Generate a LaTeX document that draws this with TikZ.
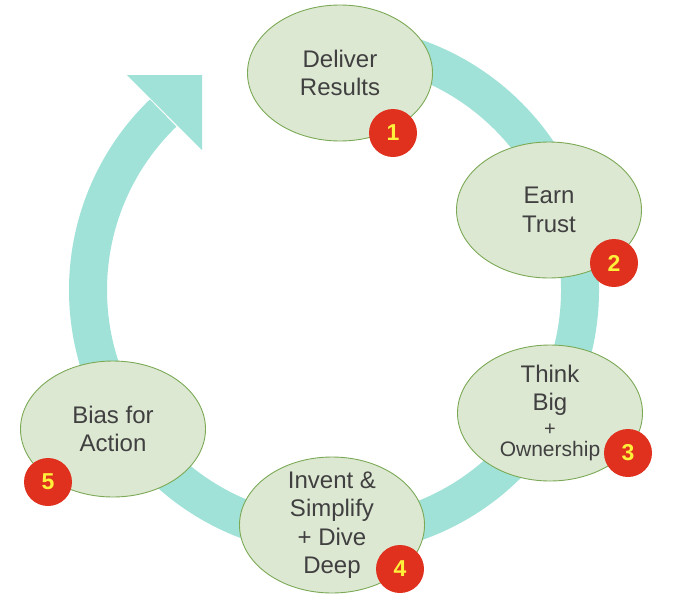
\documentclass[tikz,border=0pt]{standalone}
\usepackage{fontspec}
\setmainfont{Liberation Sans}
\usetikzlibrary{shapes.geometric}
\definecolor{ringc}{HTML}{A0E2D8}
\definecolor{ellfill}{HTML}{DDE8D3}
\definecolor{elldraw}{HTML}{7BA955}
\definecolor{txt}{HTML}{404040}
\definecolor{badgered}{HTML}{E0311F}
\definecolor{badgeyel}{HTML}{FFF03A}
\begin{document}
\begin{tikzpicture}[x=1pt,y=-1pt,
  principle/.style={ellipse, draw=elldraw, line width=0.9pt, fill=ellfill, inner sep=0pt,
    minimum width=185pt, minimum height=136pt},
  ptext/.style={text=txt, align=center, inner sep=0pt, font=\fontsize{24}{28.5}\selectfont},
  badge/.style={circle, fill=badgered, minimum size=48pt, inner sep=0pt, text=badgeyel,
    font=\fontsize{23}{23}\selectfont\bfseries},
  ring/.style={draw=ringc, line width=38pt}]
\useasboundingbox (0,0) rectangle (680,608);
% ring with arrow head
\coordinate (ctr) at (334,290);
\draw[ring] ([shift={(-95:246)}]ctr) arc[start angle=-95, end angle=226, radius=246];
\fill[ringc] (127,75) -- (202,75) -- (202,150) -- cycle;
% principles
\node[principle] (d1) at (340,73) {};
\node[ptext] (d1t) at (d1.center) {Deliver\\Results};
\node[principle] (d2) at (549,210) {};
\node[ptext] (d2t) at (d2.center) {Earn\\Trust};
\node[principle] (d3) at (550,413) {};
\node[ptext] (d3t) at (d3.center) {Think\\Big\\[-4pt]{\fontsize{20}{20}\selectfont +}\\[-7pt]{\fontsize{21}{21}\selectfont Ownership}};
\node[principle] (d4) at (332,525) {};
\node[ptext] (d4t) at (d4.center) {Invent \&\\Simplify\\+ Dive\\Deep};
\node[principle] (d5) at (113,429) {};
\node[ptext] (d5t) at (d5.center) {Bias for\\Action};
% badges
\node[badge] (b1) at (393,133) {1};
\node[badge] (b2) at (614,263) {2};
\node[badge] (b3) at (628,453) {3};
\node[badge] (b4) at (400,569) {4};
\node[badge] (b5) at (48,482) {5};
\end{tikzpicture}
\end{document}
